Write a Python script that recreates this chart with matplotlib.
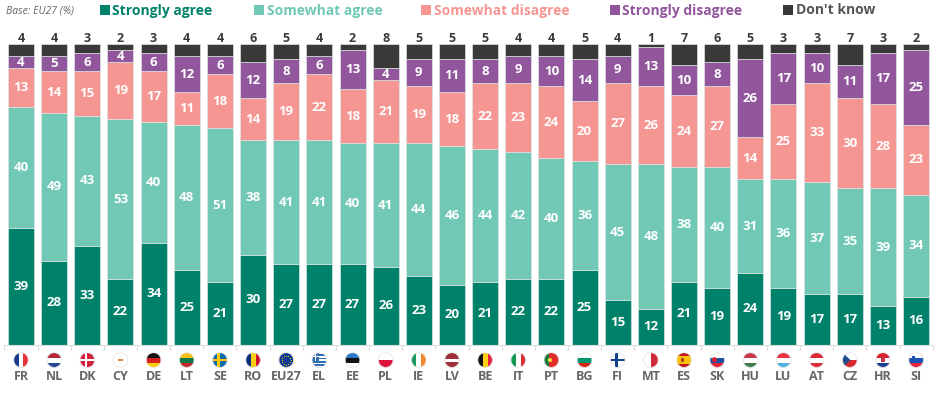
import numpy as np
from matplotlib import pyplot as plt
from matplotlib.patches import Circle, Rectangle

countries = ['FR', 'NL', 'DK', 'CY', 'DE', 'LT', 'SE', 'RO', 'EU27', 'EL', 'EE', 'PL', 'IE', 'LV',
             'BE', 'IT', 'PT', 'BG', 'FI', 'MT', 'ES', 'SK', 'HU', 'LU', 'AT', 'CZ', 'HR', 'SI']
strongly_agree = [39, 28, 33, 22, 34, 25, 21, 30, 27, 27, 27, 26, 23, 20,
                  21, 22, 22, 25, 15, 12, 21, 19, 24, 19, 17, 17, 13, 16]
somewhat_agree = [40, 49, 43, 53, 40, 48, 51, 38, 41, 41, 40, 41, 44, 46,
                  44, 42, 40, 36, 45, 48, 38, 40, 31, 36, 37, 35, 39, 34]
somewhat_disagree = [13, 14, 15, 19, 17, 11, 18, 14, 19, 22, 18, 21, 19, 18,
                     22, 23, 24, 20, 27, 26, 24, 27, 14, 25, 33, 30, 28, 23]
strongly_disagree = [4, 5, 6, 4, 6, 12, 6, 12, 8, 6, 13, 4, 9, 11,
                     8, 9, 10, 14, 9, 13, 10, 8, 26, 17, 10, 11, 17, 25]
dont_know = [4, 4, 3, 2, 3, 4, 4, 6, 5, 4, 2, 8, 5, 5,
             5, 4, 4, 5, 4, 1, 7, 6, 5, 3, 3, 7, 3, 2]

series = [strongly_agree, somewhat_agree, somewhat_disagree, strongly_disagree, dont_know]
names = ['Strongly agree', 'Somewhat agree', 'Somewhat disagree', 'Strongly disagree', "Don't know"]
colors = ['#00816A', '#70C8B5', '#F69693', '#91569C', '#3A3839']
text_colors = ['#00816A', '#70C8B5', '#F69693', '#91569C', '#555555']

# flag stripes: 'h' runs top to bottom, 'v' runs left to right
flag_stripes = {
    'FR': ('v', ['#1F3A8A', '#FFFFFF', '#E5323F']), 'NL': ('h', ['#B5293A', '#FFFFFF', '#24458F']),
    'DK': ('h', ['#D21F3C']), 'CY': ('h', ['#FFFFFF']), 'DE': ('h', ['#111111', '#D81E1E', '#FFCC00']),
    'LT': ('h', ['#F8BE1A', '#0B7A48', '#C1272D']), 'SE': ('h', ['#1269A8']),
    'RO': ('v', ['#10307F', '#FBD116', '#CE1126']), 'EU27': ('h', ['#0F3A93']), 'EL': ('h', ['#2F6DB5']),
    'EE': ('h', ['#2A78C8', '#111111', '#FFFFFF']), 'PL': ('h', ['#FFFFFF', '#DC143C']),
    'IE': ('v', ['#169B62', '#FFFFFF', '#F28A33']), 'LV': ('h', ['#9E3039', '#9E3039', '#FFFFFF', '#9E3039', '#9E3039']),
    'BE': ('v', ['#111111', '#FBD116', '#E3243B']), 'IT': ('v', ['#0E9A50', '#FFFFFF', '#D92B36']),
    'PT': ('v', ['#0E7A3A', '#E32B2B', '#E32B2B']), 'BG': ('h', ['#FFFFFF', '#00966E', '#D62612']),
    'FI': ('h', ['#FFFFFF']), 'MT': ('v', ['#FFFFFF', '#CF2A3A']), 'ES': ('h', ['#C4161C', '#FFC400', '#FFC400', '#C4161C']),
    'SK': ('h', ['#FFFFFF', '#1A4FA3', '#E3243B']), 'HU': ('h', ['#C8374A', '#FFFFFF', '#3F7D4E']),
    'LU': ('h', ['#EA3340', '#FFFFFF', '#4FB3E8']), 'AT': ('h', ['#DB2B39', '#FFFFFF', '#DB2B39']),
    'CZ': ('h', ['#FFFFFF', '#D7282F']), 'HR': ('h', ['#D8232F', '#FFFFFF', '#1B3F94']),
    'SI': ('h', ['#FFFFFF', '#1B52B5', '#E3243B']),
}


def draw_flag(fax, code):
    kind, stripes = flag_stripes[code]
    step = 1 / len(stripes)
    for n, c in enumerate(stripes):
        if kind == 'h':
            fax.add_patch(Rectangle((0, 1 - (n + 1) * step), 1, step, color=c, lw=0))
        else:
            fax.add_patch(Rectangle((n * step, 0), step, 1, color=c, lw=0))
    # the few flags that are more than stripes
    if code in ('DK', 'SE', 'FI'):
        cross = {'DK': '#FFFFFF', 'SE': '#FECC00', 'FI': '#123F8C'}[code]
        fax.add_patch(Rectangle((0.32, 0), 0.17, 1, color=cross, lw=0))
        fax.add_patch(Rectangle((0, 0.41), 1, 0.18, color=cross, lw=0))
    elif code == 'CY':
        fax.add_patch(Rectangle((0.32, 0.44), 0.36, 0.14, color='#E08A35', lw=0))
    elif code == 'EU27':
        a = np.linspace(0, 2 * np.pi, 12, endpoint=False)
        fax.scatter(0.5 + 0.3 * np.cos(a), 0.5 + 0.3 * np.sin(a), s=0.7, color='#FFCC00', lw=0)
    elif code == 'EL':
        for k in range(5):
            fax.add_patch(Rectangle((0, k * 2 / 9), 1, 1 / 9, color='#FFFFFF', lw=0))
        fax.add_patch(Rectangle((0, 0.45), 0.45, 0.55, color='#2F6DB5', lw=0))
        fax.add_patch(Rectangle((0.18, 0.45), 0.09, 0.55, color='#FFFFFF', lw=0))
        fax.add_patch(Rectangle((0, 0.68), 0.45, 0.09, color='#FFFFFF', lw=0))
    elif code == 'CZ':
        fax.fill([0, 0.55, 0], [0, 0.5, 1], color='#1D4F8F', lw=0)
    elif code == 'PT':
        fax.add_patch(Circle((0.4, 0.5), 0.14, color='#F5D33A', lw=0))
    elif code == 'ES':
        fax.add_patch(Rectangle((0.28, 0.36), 0.2, 0.28, color='#B5472A', lw=0))
    elif code == 'SK':
        fax.add_patch(Circle((0.32, 0.52), 0.17, color='#D8232F', lw=0))
    elif code == 'HR':
        fax.add_patch(Rectangle((0.37, 0.34), 0.26, 0.34, color='#C8374A', lw=0))
    elif code == 'SI':
        fax.add_patch(Rectangle((0.24, 0.6), 0.18, 0.18, color='#1B52B5', lw=0))
    fax.set_xlim(0, 1)
    fax.set_ylim(0, 1)
    clip = Circle((0.5, 0.5), 0.5, transform=fax.transData)
    for artist in fax.patches + fax.collections:
        artist.set_clip_path(clip)
    # faint ring, shows on the white flags
    fax.add_patch(Circle((0.5, 0.5), 0.49, fill=False, edgecolor='#E6E6E6', lw=0.6, clip_on=False))
    fax.axis('off')


fig = plt.figure(figsize=(9.4, 3.94), dpi=100)
plt.rcParams['font.family'] = ['Open Sans', 'DejaVu Sans']
ax = fig.add_axes([4 / 940, 1 - 345 / 394, 929 / 940, 301 / 394])

x = np.arange(len(countries))
bottom = np.zeros(len(countries))
for vals, c, name in zip(series, colors, names):
    ax.bar(x, vals, 0.785, bottom=bottom, color=c, edgecolor='#DDE3E3', linewidth=0.5, label=name)
    for xi, b, v in zip(x, bottom, vals):
        if c != colors[-1]:
            ax.text(xi, b + v / 2, str(v), ha='center', va='center', color='white',
                    fontsize=9.5, fontweight='bold')
        else:
            ax.text(xi, 99.6, str(v), ha='center', va='bottom', color='#3A3839',
                    fontsize=9, fontweight='bold')
    bottom += np.array(vals)

ax.set_xlim(-0.513, 27.51)
ax.set_ylim(0, 100)
ax.set_yticks([])
ax.set_xticks(x, countries, fontsize=9, fontweight='bold', color='#666666')
ax.set_xticks(np.arange(-0.5, 28, 1), minor=True)
ax.tick_params(axis='x', which='major', length=0, pad=18)
ax.tick_params(axis='x', which='minor', length=3.5, color='#DDDDDD', width=0.8)
for side in ['top', 'left', 'right']:
    ax.spines[side].set_visible(False)
ax.spines['bottom'].set_color('#DDDDDD')
ax.spines['bottom'].set_linewidth(0.8)

# flags sit between the axis and the country codes
for xi, code in zip(x, countries):
    fax = ax.inset_axes([xi - 0.225, -7.5, 0.45, 5.0], transform=ax.transData)
    draw_flag(fax, code)

# legend laid out by hand along the top
legend_x = [99.5, 254, 421, 609.5, 783]
for lx, name, c, tc in zip(legend_x, names, colors, text_colors):
    fig.add_artist(Rectangle((lx / 940, 1 - 15 / 394), 10 / 940, 10 / 394, color=c, lw=0,
                             transform=fig.transFigure))
    fig.text((lx + 13) / 940, 1 - 10.5 / 394, name, color=tc, fontsize=10, fontweight='bold',
             va='center', ha='left')
fig.text(6 / 940, 1 - 11 / 394, 'Base: EU27 (%)', color='#666666', fontsize=7.5, style='italic',
         va='center', ha='left')

fig.savefig('out.png', dpi=100)
